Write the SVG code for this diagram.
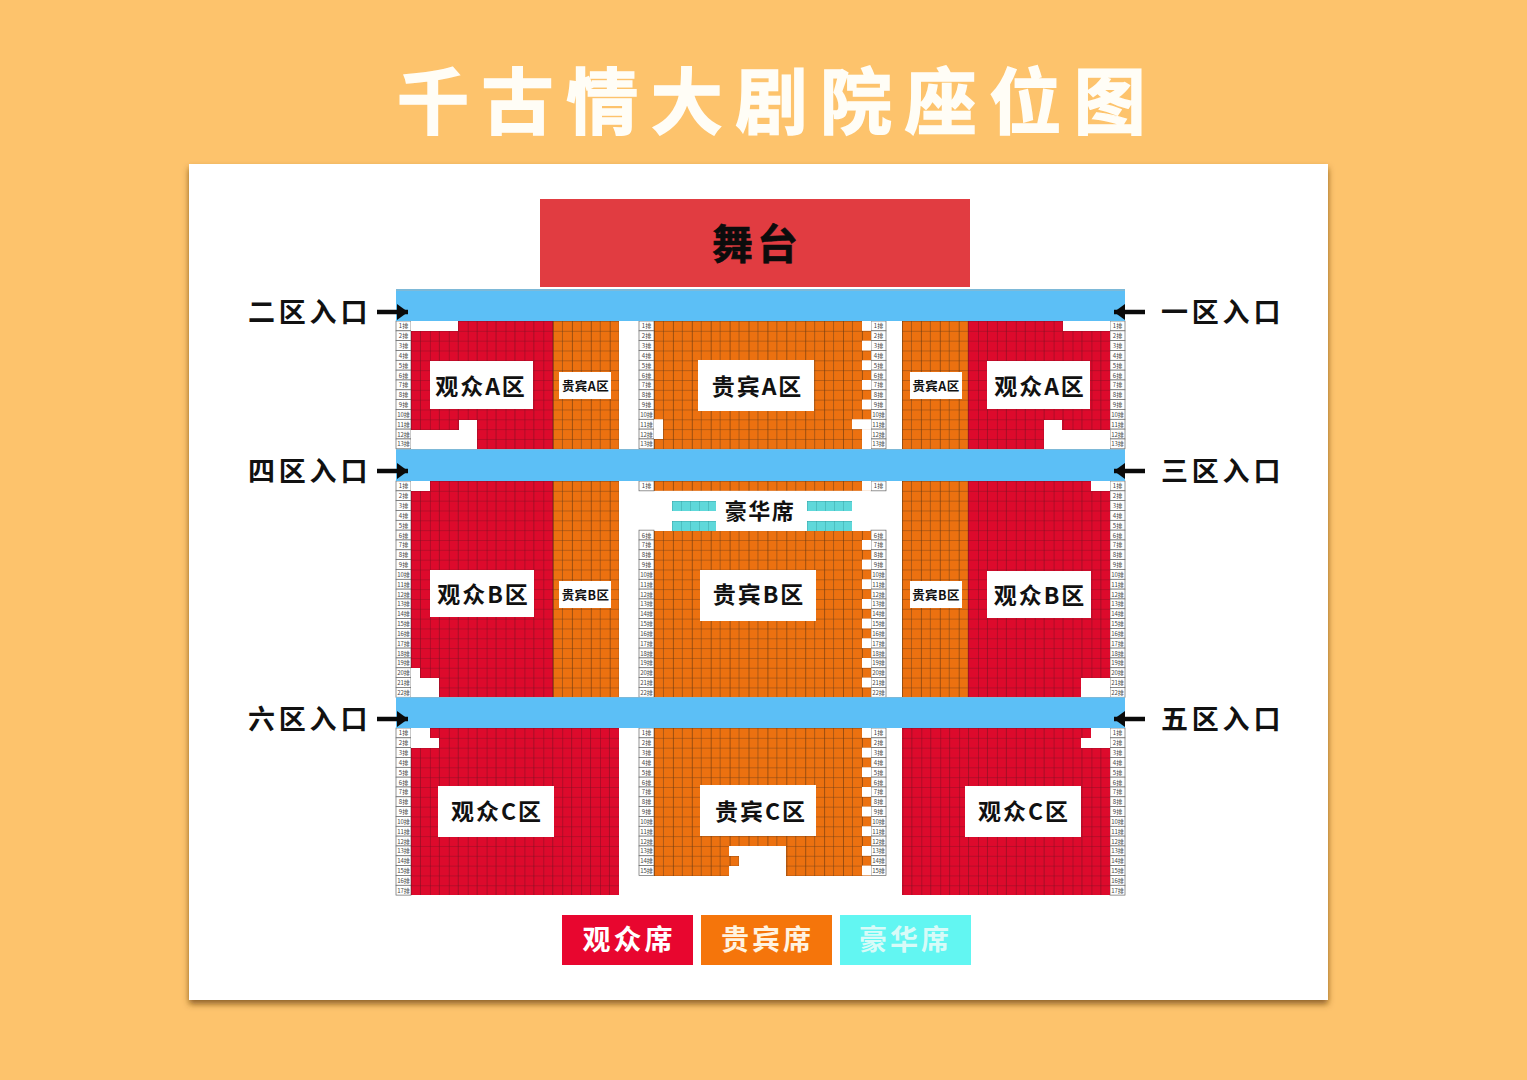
<svg xmlns="http://www.w3.org/2000/svg" width="1527" height="1080" viewBox="0 0 1527 1080">
<style>
text{font-family:"Noto Sans CJK SC","Liberation Sans",sans-serif;font-weight:700;text-anchor:middle}
.title{font-size:72px;fill:#FFFDF6;letter-spacing:12.6px;text-anchor:start;stroke:#FFFDF6;stroke-width:1.5px}
.stage{font-size:41px;fill:#0c0c0c;letter-spacing:4px;stroke:#0c0c0c;stroke-width:.6px}
.big{font-size:23px;fill:#111;letter-spacing:2px}
.small{font-size:12.5px;fill:#111;letter-spacing:.4px}
.entry{font-size:27px;fill:#111;letter-spacing:3.8px;text-anchor:start}
.lux{font-size:22px;fill:#111;letter-spacing:1.5px}
.leg{font-size:28px;fill:#fff;letter-spacing:3px}
.rl{font-size:6px;fill:#444;font-weight:400}
.rb{fill:#fff;stroke:#666;stroke-width:.7}
.box{fill:#fff}
.bar{fill:#5CBFF6}
.edge{fill:#7DB9D8}
.w{fill:#fff}
.arrow{stroke:#0a0a0a;stroke-width:4.5;fill:none;marker-end:url(#head)}
</style>
<defs>
<filter id="shadow" x="-5%" y="-5%" width="110%" height="110%"><feDropShadow dx="0" dy="4" stdDeviation="3" flood-color="#6b4310" flood-opacity=".75"/></filter>
<marker id="head" markerUnits="userSpaceOnUse" markerWidth="12" markerHeight="16" refX="11" refY="8" orient="auto"><path d="M0 0L11 8L0 16Z" fill="#0a0a0a"/></marker>
<pattern id="tile-red" width="18.9" height="9.83" patternUnits="userSpaceOnUse"><rect width="18.9" height="9.83" fill="#DD0A2C"/><path d="M0 0V9.83" stroke="#7A0E20" stroke-width=".9"/><path d="M9.45 0V9.83" stroke="#8E1024" stroke-width=".7"/><path d="M0 0H18.9" stroke="#7E0E22" stroke-width=".8"/></pattern>
<pattern id="redA" href="#tile-red" x="411" y="321"/>
<pattern id="redB" href="#tile-red" x="411" y="481"/>
<pattern id="redC" href="#tile-red" x="411" y="728"/>
<pattern id="tile-org" width="18.9" height="9.83" patternUnits="userSpaceOnUse"><rect width="18.9" height="9.83" fill="#EC7110"/><path d="M0 0V9.83" stroke="#4A2A10" stroke-width="1"/><path d="M9.45 0V9.83" stroke="#8F4E18" stroke-width=".7"/><path d="M0 0H18.9" stroke="#6A3A14" stroke-width=".8"/></pattern>
<pattern id="orgA" href="#tile-org" x="654" y="321"/>
<pattern id="orgB" href="#tile-org" x="654" y="481"/>
<pattern id="orgC" href="#tile-org" x="654" y="728"/>
<pattern id="orgSA" href="#tile-org" x="553" y="321"/>
<pattern id="orgSB" href="#tile-org" x="553" y="481"/>
<pattern id="orgRA" href="#tile-org" x="902" y="321"/>
<pattern id="orgRB" href="#tile-org" x="902" y="481"/>
<pattern id="lux" width="9" height="10" patternUnits="userSpaceOnUse" x="672" y="501"><rect width="9" height="10" fill="#5FD8DA"/><path d="M0 0V10M0 0H9" stroke="#2A8F92" stroke-width=".7"/></pattern>
<g id="r1"><rect class="rb" width="15" height="9.83"/><text class="rl" x="7.5" y="7.4">1排</text></g>
<g id="r2-5">
<rect class="rb" y="9.83" width="15" height="9.83"/><text class="rl" x="7.5" y="17.2">2排</text>
<rect class="rb" y="19.66" width="15" height="9.83"/><text class="rl" x="7.5" y="27.1">3排</text>
<rect class="rb" y="29.49" width="15" height="9.83"/><text class="rl" x="7.5" y="36.9">4排</text>
<rect class="rb" y="39.32" width="15" height="9.83"/><text class="rl" x="7.5" y="46.7">5排</text>
</g>
<g id="r6-13">
<rect class="rb" y="49.15" width="15" height="9.83"/><text class="rl" x="7.5" y="56.5">6排</text>
<rect class="rb" y="58.98" width="15" height="9.83"/><text class="rl" x="7.5" y="66.4">7排</text>
<rect class="rb" y="68.81" width="15" height="9.83"/><text class="rl" x="7.5" y="76.2">8排</text>
<rect class="rb" y="78.64" width="15" height="9.83"/><text class="rl" x="7.5" y="86">9排</text>
<rect class="rb" y="88.47" width="15" height="9.83"/><text class="rl" x="7.5" y="95.9">10排</text>
<rect class="rb" y="98.3" width="15" height="9.83"/><text class="rl" x="7.5" y="105.7">11排</text>
<rect class="rb" y="108.13" width="15" height="9.83"/><text class="rl" x="7.5" y="115.5">12排</text>
<rect class="rb" y="117.96" width="15" height="9.83"/><text class="rl" x="7.5" y="125.4">13排</text>
</g>
<g id="r14-15">
<rect class="rb" y="127.79" width="15" height="9.83"/><text class="rl" x="7.5" y="135.2">14排</text>
<rect class="rb" y="137.62" width="15" height="9.83"/><text class="rl" x="7.5" y="145">15排</text>
</g>
<g id="r16-17">
<rect class="rb" y="147.45" width="15" height="9.83"/><text class="rl" x="7.5" y="154.9">16排</text>
<rect class="rb" y="157.28" width="15" height="9.83"/><text class="rl" x="7.5" y="164.7">17排</text>
</g>
<g id="r18-22">
<rect class="rb" y="167.11" width="15" height="9.83"/><text class="rl" x="7.5" y="174.5">18排</text>
<rect class="rb" y="176.94" width="15" height="9.83"/><text class="rl" x="7.5" y="184.3">19排</text>
<rect class="rb" y="186.77" width="15" height="9.83"/><text class="rl" x="7.5" y="194.2">20排</text>
<rect class="rb" y="196.6" width="15" height="9.83"/><text class="rl" x="7.5" y="204">21排</text>
<rect class="rb" y="206.43" width="15" height="9.83"/><text class="rl" x="7.5" y="213.8">22排</text>
</g>
<g id="rows13"><use href="#r1"/><use href="#r2-5"/><use href="#r6-13"/></g>
<g id="rows15"><use href="#rows13"/><use href="#r14-15"/></g>
<g id="rows17"><use href="#rows15"/><use href="#r16-17"/></g>
<g id="rows22"><use href="#rows17"/><use href="#r18-22"/></g>
<g id="rowsCB"><use href="#r1"/><use href="#r6-13"/><use href="#r14-15"/><use href="#r16-17"/><use href="#r18-22"/></g>
</defs>

<rect width="1527" height="1080" fill="#FDC36C"/>
<rect id="card" x="189" y="164" width="1139" height="836" fill="#fff" filter="url(#shadow)"/>
<g id="title"><text class="title" x="397" y="128">千古情大剧院座位图</text></g>
<g id="stage"><rect x="540" y="199" width="430" height="88" fill="#E13C41"/><text class="stage" x="757" y="259">舞台</text></g>

<g id="row-labels">
<use href="#rows13" x="396" y="321"/><use href="#rows13" x="639" y="321"/><use href="#rows13" x="871" y="321"/><use href="#rows13" x="1110" y="321"/>
<use href="#rows22" x="396" y="481"/><use href="#rowsCB" x="639" y="481"/><use href="#rowsCB" x="871" y="481"/><use href="#rows22" x="1110" y="481"/>
<use href="#rows17" x="396" y="728"/><use href="#rows15" x="639" y="728"/><use href="#rows15" x="871" y="728"/><use href="#rows17" x="1110" y="728"/>
</g>

<g id="zone-left-a">
<rect x="411" y="321" width="142" height="128" fill="url(#redA)"/>
<rect class="w" x="411" y="321" width="47" height="10"/><rect class="w" x="411" y="430" width="66" height="19"/><rect class="w" x="459" y="420" width="18" height="10"/>
<rect x="553" y="321" width="66" height="128" fill="url(#orgSA)"/>
<rect class="box" x="430" y="361" width="103" height="48"/><text class="big" x="481" y="395">观众A区</text>
<rect class="box" x="559" y="372" width="52" height="27"/><text class="small" x="585.500" y="391">贵宾A区</text>
</g>
<g id="zone-center-a">
<rect x="654" y="321" width="217" height="128" fill="url(#orgA)"/>
<rect class="w" x="862" y="321" width="9" height="9.83"/><rect class="w" x="862" y="340.7" width="9" height="9.83"/><rect class="w" x="862" y="360.3" width="9" height="9.83"/><rect class="w" x="862" y="380" width="9" height="9.83"/><rect class="w" x="862" y="399.6" width="9" height="9.83"/>
<rect class="w" x="852" y="419.3" width="19" height="9.83"/><rect class="w" x="862" y="429.1" width="9" height="19.9"/><rect class="w" x="654" y="419.3" width="9" height="19.7"/>
<rect class="box" x="698" y="360" width="116" height="51"/><text class="big" x="757.500" y="395">贵宾A区</text>
</g>
<g id="zone-right-a">
<rect x="902" y="321" width="66" height="128" fill="url(#orgRA)"/>
<rect x="968" y="321" width="142" height="128" fill="url(#redA)"/>
<rect class="w" x="1063" y="321" width="47" height="10"/><rect class="w" x="1062" y="430" width="48" height="19"/><rect class="w" x="1044" y="420" width="18" height="29"/>
<rect class="box" x="910" y="372" width="52" height="27"/><text class="small" x="936" y="391">贵宾A区</text>
<rect class="box" x="987" y="361" width="103" height="48"/><text class="big" x="1040" y="395">观众A区</text>
</g>

<g id="zone-left-b">
<rect x="411" y="481" width="142" height="216" fill="url(#redB)"/>
<rect class="w" x="411" y="481" width="19" height="10"/><rect class="w" x="411" y="668" width="9" height="10"/><rect class="w" x="411" y="678" width="28" height="19"/>
<rect x="553" y="481" width="66" height="216" fill="url(#orgSB)"/>
<rect class="box" x="430" y="570" width="104" height="47"/><text class="big" x="483.500" y="603">观众B区</text>
<rect class="box" x="559" y="581" width="52" height="27"/><text class="small" x="585.500" y="600">贵宾B区</text>
</g>
<g id="zone-center-b">
<rect x="654" y="481" width="217" height="9.83" fill="url(#orgB)"/><rect class="w" x="862" y="481" width="9" height="9.83"/>
<rect x="654" y="531" width="217" height="166" fill="url(#orgB)"/>
<rect class="w" x="862" y="540" width="9" height="9.83"/><rect class="w" x="862" y="559.6" width="9" height="9.83"/><rect class="w" x="862" y="579.3" width="9" height="9.83"/><rect class="w" x="862" y="599" width="9" height="9.83"/><rect class="w" x="862" y="618.6" width="9" height="9.83"/><rect class="w" x="862" y="638.3" width="9" height="9.83"/><rect class="w" x="862" y="658" width="9" height="9.83"/><rect class="w" x="862" y="677.6" width="9" height="9.83"/>
<rect class="box" x="700" y="570" width="116" height="51"/><text class="big" x="759" y="603">贵宾B区</text>
</g>
<g id="zone-luxury">
<rect x="672" y="501" width="44" height="10" fill="url(#lux)"/><rect x="672" y="521" width="44" height="10" fill="url(#lux)"/>
<rect x="807" y="501" width="45" height="10" fill="url(#lux)"/><rect x="807" y="521" width="45" height="10" fill="url(#lux)"/>
<text class="lux" x="760" y="519">豪华席</text>
</g>
<g id="zone-right-b">
<rect x="902" y="481" width="66" height="216" fill="url(#orgRB)"/>
<rect x="968" y="481" width="142" height="216" fill="url(#redB)"/>
<rect class="w" x="1091" y="481" width="19" height="10"/><rect class="w" x="1081" y="678" width="29" height="19"/>
<rect class="box" x="910" y="581" width="52" height="27"/><text class="small" x="936" y="600">贵宾B区</text>
<rect class="box" x="987" y="571" width="104" height="47"/><text class="big" x="1040" y="604">观众B区</text>
</g>

<g id="zone-left-c">
<rect x="411" y="728" width="208" height="167" fill="url(#redC)"/>
<rect class="w" x="411" y="728" width="19" height="10"/><rect class="w" x="411" y="738" width="28" height="10"/>
<rect class="box" x="438" y="786" width="116" height="51"/><text class="big" x="497" y="820">观众C区</text>
</g>
<g id="zone-center-c">
<rect x="654" y="728" width="217" height="148" fill="url(#orgC)"/>
<rect class="w" x="862" y="728" width="9" height="9.83"/><rect class="w" x="862" y="747.7" width="9" height="9.83"/><rect class="w" x="862" y="767.3" width="9" height="9.83"/><rect class="w" x="862" y="787" width="9" height="9.83"/><rect class="w" x="862" y="806.6" width="9" height="9.83"/><rect class="w" x="862" y="826.3" width="9" height="9.83"/><rect class="w" x="862" y="846" width="9" height="9.83"/><rect class="w" x="862" y="865.6" width="9" height="9.83"/>
<rect class="w" x="729" y="846" width="57" height="10"/><rect class="w" x="739" y="856" width="47" height="10"/><rect class="w" x="729" y="866" width="57" height="10"/>
<rect class="box" x="700" y="785" width="116" height="51"/><text class="big" x="761" y="820">贵宾C区</text>
</g>
<g id="zone-right-c">
<rect x="902" y="728" width="208" height="167" fill="url(#redC)"/>
<rect class="w" x="1091" y="728" width="19" height="10"/><rect class="w" x="1081" y="738" width="29" height="10"/>
<rect class="box" x="965" y="786" width="116" height="51"/><text class="big" x="1024" y="820">观众C区</text>
</g>

<g id="aisle-1"><rect class="edge" x="396" y="289" width="729" height="3"/><rect class="bar" x="396" y="291" width="729" height="30"/></g>
<g id="aisle-2"><rect class="edge" x="396" y="449" width="729" height="2"/><rect class="bar" x="396" y="450" width="729" height="31"/></g>
<g id="aisle-3"><rect class="edge" x="396" y="697" width="729" height="2"/><rect class="bar" x="396" y="698" width="729" height="30"/></g>

<g id="entry-2"><text class="entry" x="248" y="322">二区入口</text></g>
<g id="entry-4"><text class="entry" x="248" y="481">四区入口</text></g>
<g id="entry-6"><text class="entry" x="248" y="729">六区入口</text></g>
<g id="entry-1"><text class="entry" x="1161" y="322">一区入口</text></g>
<g id="entry-3"><text class="entry" x="1161" y="481">三区入口</text></g>
<g id="entry-5"><text class="entry" x="1161" y="729">五区入口</text></g>

<g id="connectors">
<path class="arrow" d="M377 312H408"/><path class="arrow" d="M377 471H408"/><path class="arrow" d="M377 719H408"/>
<path class="arrow" d="M1145 312H1114"/><path class="arrow" d="M1145 471H1114"/><path class="arrow" d="M1145 719H1114"/>
</g>

<g id="legend-audience"><rect x="562" y="915" width="131" height="50" fill="#E8062F"/><text class="leg" x="629" y="950">观众席</text></g>
<g id="legend-vip"><rect x="701" y="915" width="131" height="50" fill="#F5750B"/><text class="leg" x="767.500" y="950" style="fill:#FFF3E0">贵宾席</text></g>
<g id="legend-luxury"><rect x="840" y="915" width="131" height="50" fill="#62F6F2"/><text class="leg" x="905.500" y="950" style="fill:#D8FBF8">豪华席</text></g>
</svg>
